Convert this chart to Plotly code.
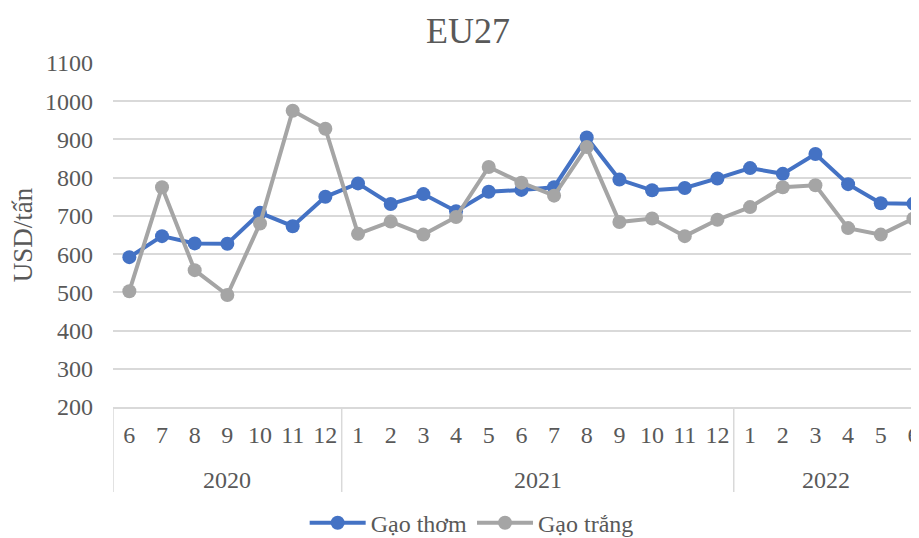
import plotly.graph_objects as go

years = ["2020"] * 7 + ["2021"] * 12 + ["2022"] * 6
months = ["6", "7", "8", "9", "10", "11", "12",
          "1", "2", "3", "4", "5", "6", "7", "8", "9", "10", "11", "12",
          "1", "2", "3", "4", "5", "6"]
gao_thom = [592, 647, 628, 627, 708, 673, 750,
            785, 731, 757, 712, 763, 768, 775, 905, 795, 767, 773, 798,
            825, 810, 862, 783, 733, 732]
gao_trang = [503, 775, 558, 493, 680, 975, 928,
             653, 685, 651, 697, 828, 787, 753, 880, 684, 693, 647, 690,
             723, 775, 780, 668, 651, 693]
y_ticks = [200, 300, 400, 500, 600, 700, 800, 900, 1000, 1100]

FONT = "Liberation Serif"
GREY_TXT = "#595959"
GRID = "#D9D9D9"

xs = list(range(len(months)))
X_MIN, X_MAX = -0.5, 24.17

fig = go.Figure()
fig.add_trace(go.Scatter(x=xs, y=gao_thom, name="Gạo thơm",
                         mode="lines+markers", cliponaxis=False,
                         line=dict(color="#4472C4", width=4),
                         marker=dict(color="#4472C4", size=14)))
fig.add_trace(go.Scatter(x=xs, y=gao_trang, name="Gạo trắng",
                         mode="lines+markers", cliponaxis=False,
                         line=dict(color="#A5A5A5", width=4),
                         marker=dict(color="#A5A5A5", size=14)))

# year group labels and dividers, derived from the years list
groups = []
start = 0
for i in range(1, len(years) + 1):
    if i == len(years) or years[i] != years[start]:
        groups.append((years[start], start, i - 1))
        start = i

for name, a, b in groups:
    left = max(a - 0.5, X_MIN)
    right = min(b + 0.5, X_MAX)
    fig.add_annotation(x=(left + right) / 2, y=-0.212, xref="x", yref="paper",
                       text=name, showarrow=False, yanchor="middle",
                       font=dict(family=FONT, size=24, color=GREY_TXT))
    fig.add_shape(type="line", xref="x", yref="paper", x0=a - 0.5, x1=a - 0.5,
                  y0=0, y1=-0.247, line=dict(color=GRID, width=1.5))

fig.update_layout(
    width=911, height=530,
    paper_bgcolor="white", plot_bgcolor="white",
    margin=dict(l=105, r=0, t=55, b=131),
    font=dict(family=FONT, size=24, color=GREY_TXT),
    title=dict(text="EU27", x=0.505, xref="container", xanchor="center",
               y=0.9585, yref="container", yanchor="middle",
               font=dict(family=FONT, size=36, color=GREY_TXT)),
    showlegend=True,
    legend=dict(orientation="h", x=0.445, xanchor="center",
                yref="container", y=0.028, yanchor="middle",
                itemwidth=56,
                font=dict(family=FONT, size=24, color=GREY_TXT)),
)
fig.update_yaxes(range=[200, 1100], tickvals=y_ticks, showgrid=True,
                 gridcolor=GRID, gridwidth=1.5, zeroline=False,
                 ticks="", ticklabelstandoff=19, automargin=False,
                 tickfont=dict(family=FONT, size=24, color=GREY_TXT),
                 title=dict(text="USD/tấn", font=dict(family=FONT, size=27, color=GREY_TXT),
                            standoff=8))
fig.update_xaxes(range=[X_MIN, X_MAX], tickvals=xs, ticktext=months, showgrid=False,
                 showline=True, linecolor=GRID, linewidth=1.5, zeroline=False,
                 ticks="", ticklabelstandoff=5, automargin=False,
                 ticklabeloverflow="allow",
                 tickfont=dict(family=FONT, size=24, color=GREY_TXT))

fig.write_html("out.html")
